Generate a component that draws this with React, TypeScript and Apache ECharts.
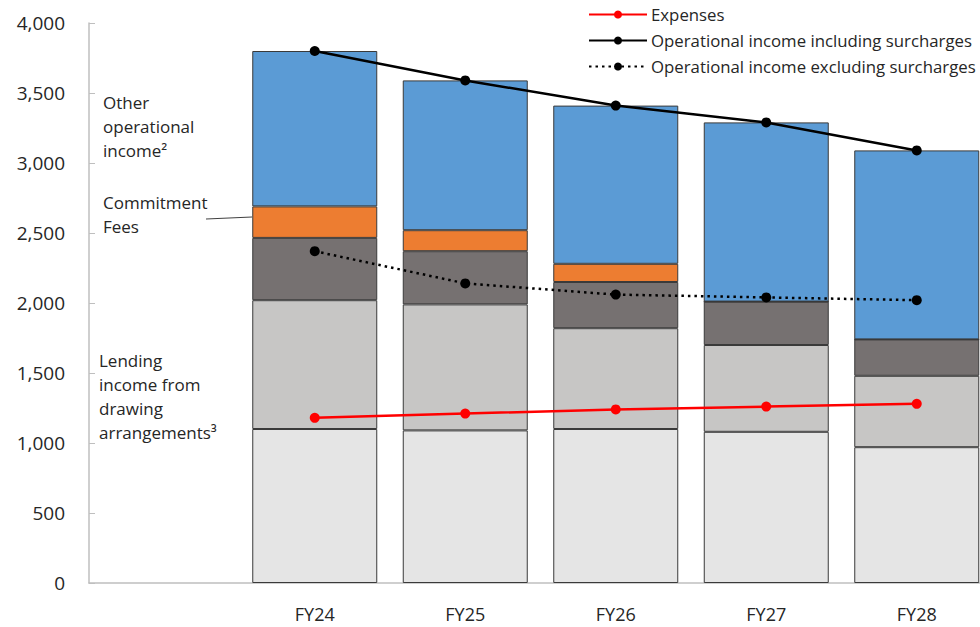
import React, { useEffect, useRef } from "react";
import * as echarts from "echarts";

// Fiscal years (leading blank slot holds the side annotations)
const categories = ["", "FY24", "FY25", "FY26", "FY27", "FY28"];

// Stacked income components
const topBorrower = [null, 1100, 1090, 1100, 1080, 970];
const nextFourTopBorrowers = [null, 920, 900, 720, 620, 510];
const others = [null, 445, 380, 330, 310, 260];
const commitmentFees = [null, 225, 150, 130, 0, 0];
const otherOperationalIncome = [null, 1110, 1070, 1130, 1280, 1350];

// Line series
const expenses = [null, 1180, 1210, 1240, 1260, 1280];
const incomeInclSurcharges = [null, 3800, 3590, 3410, 3290, 3090];
const incomeExclSurcharges = [null, 2370, 2140, 2060, 2040, 2020];

const yTicks = { min: 0, max: 4000, interval: 500 };

const FONT = "'Open Sans', 'Noto Sans', sans-serif";
const BORDER = "#3a3a3a";

export default function App() {
  const ref = useRef<HTMLDivElement>(null);

  useEffect(() => {
    if (!ref.current) return;
    const chart = echarts.init(ref.current, null, { renderer: "svg" });

    const barSeries = (name: string, data: (number | null)[], color: string) => ({
      name,
      type: "bar",
      stack: "income",
      data,
      barWidth: 125,
      itemStyle: { color, borderColor: BORDER, borderWidth: 1 },
      emphasis: { disabled: true },
    });

    const lineSeries = (name: string, data: (number | null)[], color: string, dotted: boolean) => ({
      name,
      type: "line",
      data,
      symbol: "circle",
      symbolSize: 10,
      z: 5,
      lineStyle: { color, width: 2.5, type: dotted ? [2.5, 4] : "solid" },
      itemStyle: { color },
      emphasis: { disabled: true },
    });

    const textStyle = { fontFamily: FONT, fontSize: 17, fill: "#262626", lineHeight: 24 };

    chart.setOption({
      animation: false,
      textStyle: { fontFamily: FONT },
      grid: {
        left: 89,
        width: 903,
        top: 23,
        bottom: 44,
        containLabel: false,
        outerBoundsMode: "none",
      },
      legend: {
        data: [
          "Expenses",
          "Operational income including surcharges",
          "Operational income excluding surcharges",
        ],
        orient: "vertical",
        left: 583,
        top: 1,
        itemWidth: 58,
        itemHeight: 10,
        itemGap: 9,
        textStyle: { fontFamily: FONT, fontSize: 16.8, color: "#262626", padding: [0, 0, 0, -1] },
      },
      xAxis: {
        type: "category",
        data: categories,
        axisLine: { lineStyle: { color: "#bfbfbf", width: 1.5 } },
        axisTick: { show: false },
        axisLabel: { fontFamily: FONT, fontSize: 18, color: "#262626", margin: 22 },
      },
      yAxis: {
        type: "value",
        min: yTicks.min,
        max: yTicks.max,
        interval: yTicks.interval,
        splitLine: { show: false },
        axisLine: { show: true, lineStyle: { color: "#bfbfbf", width: 1.5 } },
        axisTick: { show: true, inside: true, length: 6, lineStyle: { color: "#bfbfbf" } },
        axisLabel: {
          fontFamily: FONT,
          fontSize: 19,
          color: "#262626",
          margin: 24,
          formatter: (v: number) => v.toLocaleString("en-US"),
        },
      },
      series: [
        barSeries("Top Borrower", topBorrower, "#e5e5e5"),
        barSeries("Next Four Top Borrowers", nextFourTopBorrowers, "#c7c6c5"),
        barSeries("Others", others, "#767171"),
        barSeries("Commitment Fees", commitmentFees, "#ed7d31"),
        barSeries("Other operational income", otherOperationalIncome, "#5b9bd5"),
        lineSeries("Expenses", expenses, "#ff0000", false),
        lineSeries("Operational income including surcharges", incomeInclSurcharges, "#000000", false),
        lineSeries("Operational income excluding surcharges", incomeExclSurcharges, "#000000", true),
      ],
      graphic: [
        { type: "text", left: 103, top: 90, style: { ...textStyle, text: "Other\noperational\nincome²" } },
        { type: "text", left: 103, top: 190, style: { ...textStyle, text: "Commitment\nFees" } },
        { type: "line", shape: { x1: 206, y1: 219, x2: 252, y2: 217 }, style: { stroke: "#404040", lineWidth: 1 } },
        { type: "text", left: 270, top: 260, style: { ...textStyle, text: "Others" } },
        { type: "text", left: 265, top: 318, style: { ...textStyle, text: "Next Four\nTop\nBorrowers" } },
        { type: "text", left: 99, top: 348, style: { ...textStyle, text: "Lending\nincome from\ndrawing\narrangements³" } },
        { type: "text", left: 270, top: 458, style: { ...textStyle, text: "Top\nBorrower" } },
      ],
    });

    return () => chart.dispose();
  }, []);

  return <div ref={ref} style={{ width: 980, height: 627, position: "absolute", left: 0, top: 0 }} />;
}
